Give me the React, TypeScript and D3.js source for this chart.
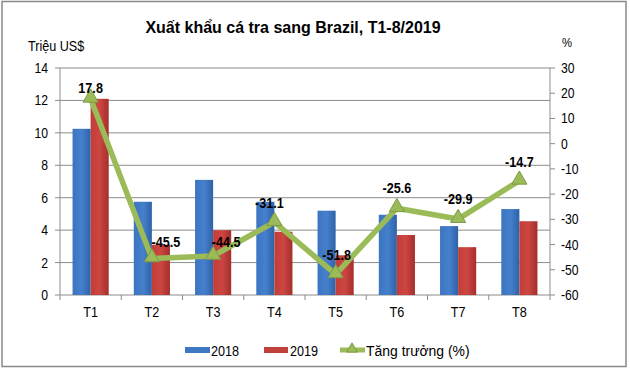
import * as d3 from "d3";

const categories = ["T1", "T2", "T3", "T4", "T5", "T6", "T7", "T8"];
const values2018 = [10.25, 5.75, 7.1, 5.75, 5.2, 4.95, 4.25, 5.3];
const values2019 = [12.1, 3.1, 4.0, 3.9, 2.45, 3.7, 2.95, 4.55];
const growth = [17.8, -45.5, -44.5, -31.1, -51.8, -25.6, -29.9, -14.7];
const leftTicks = [0, 2, 4, 6, 8, 10, 12, 14];
const rightTicks = [30, 20, 10, 0, -10, -20, -30, -40, -50, -60];
const seriesNames = ["2018", "2019"];

// nudges for growth labels, like the hand-placed ones in the original
const labelShift = [
  [0, -6],
  [14, -11],
  [13, -9],
  [-5, -14],
  [1, -14],
  [0, -15],
  [0, -15],
  [0, -14],
];

const W = 630;
const H = 372;
const left = 60;
const right = 550;
const top = 68;
const bottom = 295;
const font = "'Liberation Sans', Arial, sans-serif";
const SX = 0.87; // the original's type is a bit condensed

function T(props: {
  x: number;
  y: number;
  size: number;
  anchor?: string;
  bold?: boolean;
  sx?: number;
  children: any;
}) {
  return (
    <text
      transform={`translate(${props.x},${props.y}) scale(${props.sx ?? SX},1)`}
      textAnchor={props.anchor || "start"}
      fontFamily={font}
      fontSize={props.size}
      fontWeight={props.bold ? "bold" : "normal"}
      fill="#000"
    >
      {props.children}
    </text>
  );
}

export default function App() {
  const x0 = d3
    .scaleBand<string>()
    .domain(categories)
    .range([left, right])
    .paddingInner(0.41)
    .paddingOuter(0.205);
  const x1 = d3.scaleBand<string>().domain(seriesNames).range([0, x0.bandwidth()]);
  const yL = d3.scaleLinear().domain([0, 14]).range([bottom, top]);
  const yR = d3.scaleLinear().domain([-60, 30]).range([bottom, top]);
  const step = x0.step();
  const cx = (c: string) => (x0(c) as number) + x0.bandwidth() / 2;

  const line = d3
    .line<number>()
    .x((_, i) => cx(categories[i]))
    .y((d) => yR(d));

  const tri = d3.symbol().type(d3.symbolTriangle).size(100)();
  const series = [values2018, values2019];
  const fills = ["url(#gBlue)", "url(#gRed)"];

  return (
    <div style={{ position: "fixed", left: 0, top: 0 }}>
      <svg width={W} height={H} style={{ display: "block", background: "#fff" }}>
        <defs>
          <linearGradient id="gBlue" x1="0" x2="1" y1="0" y2="0">
            <stop offset="0" stopColor="#3B74C0" />
            <stop offset="0.5" stopColor="#4680CC" />
            <stop offset="1" stopColor="#2E62A8" />
          </linearGradient>
          <linearGradient id="gRed" x1="0" x2="1" y1="0" y2="0">
            <stop offset="0" stopColor="#C23C38" />
            <stop offset="0.5" stopColor="#CC4642" />
            <stop offset="1" stopColor="#A52E2B" />
          </linearGradient>
        </defs>
        <rect x={2} y={1.5} width={624} height={365} fill="#fff" stroke="#8a8a8a" strokeWidth={1.5} />

        {/* title */}
        <T x={293} y={33} size={16.5} sx={0.97} anchor="middle" bold>
          Xuất khẩu cá tra sang Brazil, T1-8/2019
        </T>
        <T x={28} y={51} size={14.5}>Triệu US$</T>
        <T x={562} y={47} size={13}>%</T>

        {/* grid */}
        {leftTicks.map((t) => (
          <line key={t} x1={left} x2={right} y1={yL(t)} y2={yL(t)} stroke="#8c8c8c" strokeWidth={1} />
        ))}
        <line x1={left} x2={left} y1={top} y2={bottom} stroke="#8c8c8c" />
        <line x1={right} x2={right} y1={top} y2={bottom} stroke="#8c8c8c" />
        {leftTicks.map((t) => (
          <line key={"lt" + t} x1={left - 5} x2={left} y1={yL(t)} y2={yL(t)} stroke="#8c8c8c" />
        ))}
        {rightTicks.map((t) => (
          <line key={"rt" + t} x1={right} x2={right + 5} y1={yR(t)} y2={yR(t)} stroke="#8c8c8c" />
        ))}
        {d3.range(categories.length + 1).map((i) => (
          <line
            key={"xt" + i}
            x1={left + i * step}
            x2={left + i * step}
            y1={bottom}
            y2={bottom + 5}
            stroke="#8c8c8c"
          />
        ))}

        {/* tick labels */}
        {leftTicks.map((t) => (
          <T key={"ll" + t} x={48} y={yL(t) + 5} size={14} anchor="end">
            {t}
          </T>
        ))}
        {rightTicks.map((t) => (
          <T key={"rl" + t} x={561} y={yR(t) + 5} size={14}>
            {t}
          </T>
        ))}
        {categories.map((c) => (
          <T key={"xl" + c} x={cx(c)} y={317} size={14.5} anchor="middle">
            {c}
          </T>
        ))}

        {/* bars */}
        {series.map((vals, s) =>
          vals.map((v, i) => (
            <rect
              key={s + "-" + i}
              x={(x0(categories[i]) as number) + (x1(seriesNames[s]) as number)}
              y={yL(v)}
              width={x1.bandwidth()}
              height={bottom - yL(v)}
              fill={fills[s]}
            />
          ))
        )}

        {/* growth line */}
        <path d={line(growth) || ""} fill="none" stroke="#9BBB59" strokeWidth={5.5} strokeLinejoin="round" />
        {growth.map((g, i) => (
          <path
            key={"m" + i}
            d={tri || ""}
            transform={`translate(${cx(categories[i])},${yR(g) - 1})`}
            fill="#9BBB59"
            stroke="#7E9A45"
            strokeWidth={1}
          />
        ))}
        {growth.map((g, i) => (
          <T
            key={"gl" + i}
            x={cx(categories[i]) + labelShift[i][0]}
            y={yR(g) + labelShift[i][1]}
            size={14.5}
            anchor="middle"
            bold
          >
            {g}
          </T>
        ))}

        {/* legend */}
        <rect x={185} y={347} width={25} height={6} fill="#3F78C2" />
        <T x={211} y={356} size={14.5}>{seriesNames[0]}</T>
        <rect x={264} y={347} width={24} height={6} fill="#C0403C" />
        <T x={290} y={356} size={14.5}>{seriesNames[1]}</T>
        <line x1={340} x2={365} y1={350} y2={350} stroke="#9BBB59" strokeWidth={5} />
        <path
          d={d3.symbol().type(d3.symbolTriangle).size(50)() || ""}
          transform="translate(352,349)"
          fill="#9BBB59"
          stroke="#7E9A45"
        />
        <T x={366} y={356} size={15} sx={0.93}>Tăng trưởng (%)</T>
      </svg>
    </div>
  );
}
